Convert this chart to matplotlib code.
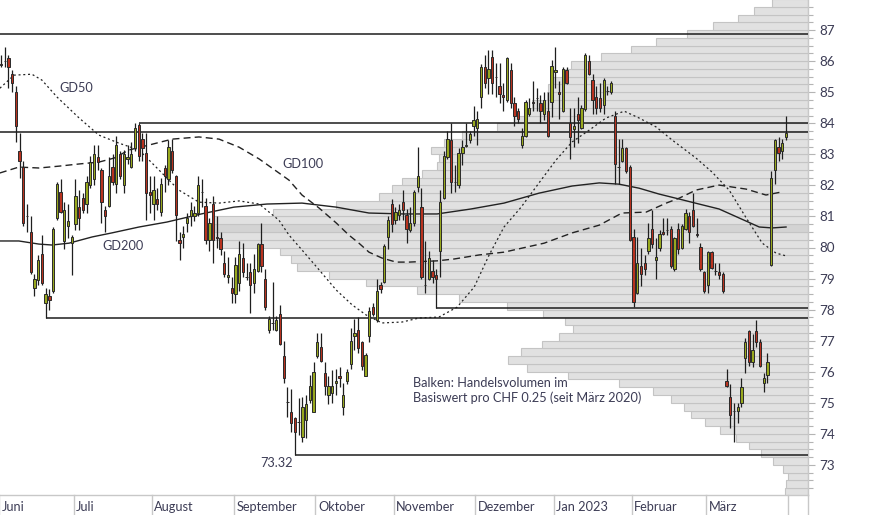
import numpy as np
import matplotlib.pyplot as plt
from matplotlib.ticker import MultipleLocator
from matplotlib.transforms import blended_transform_factory

plt.rcParams['font.family'] = ['Lato', 'DejaVu Sans']

# Tageskerzen (Eröffnung, Hoch, Tief, Schluss) pro Monat
juni = [
    (85.90, 86.20, 85.80, 85.88), (86.00, 86.45, 85.80, 86.02), (86.10, 86.20, 85.15, 85.80),
    (85.60, 85.70, 85.00, 85.30), (85.00, 85.20, 83.40, 83.90), (83.10, 83.70, 82.25, 82.80),
    (82.60, 82.80, 80.70, 80.80), (81.00, 81.40, 80.50, 81.00), (80.50, 81.00, 79.15, 79.20),
    (78.70, 79.15, 78.45, 79.00), (78.95, 79.75, 78.80, 79.60), (79.80, 80.40, 78.80, 78.85),
    (78.20, 78.70, 77.72, 78.50), (78.45, 78.65, 78.00, 78.30), (78.60, 80.65, 78.55, 80.60),
    (80.95, 82.10, 80.90, 82.05), (81.80, 82.20, 81.10, 81.15), (80.20, 81.45, 79.95, 81.20),
    (80.70, 81.40, 80.30, 80.85), (80.15, 80.40, 79.10, 80.35),
]
juli = [
    (80.75, 82.20, 80.55, 81.65), (81.30, 81.85, 80.55, 80.95), (81.60, 81.75, 81.10, 81.20),
    (81.40, 82.30, 81.10, 82.10), (82.00, 82.95, 81.90, 82.75), (82.20, 83.30, 82.00, 83.00),
    (82.90, 83.30, 82.50, 82.75), (82.50, 82.55, 80.80, 81.45), (81.20, 81.35, 80.50, 81.00),
    (81.35, 82.90, 81.30, 82.30), (82.60, 83.00, 82.00, 82.10), (82.05, 83.60, 81.75, 83.30),
    (83.00, 83.10, 82.20, 82.30), (82.00, 83.15, 81.75, 83.00), (82.85, 83.30, 82.70, 82.90),
    (82.60, 83.40, 82.55, 83.00), (83.20, 84.00, 83.10, 83.85), (83.95, 84.02, 82.80, 82.95),
    (83.50, 83.70, 82.80, 83.20), (83.05, 83.70, 80.90, 81.75), (81.80, 82.30, 81.10, 81.70),
]
august = [
    (81.40, 82.30, 80.90, 81.85), (81.55, 81.90, 81.20, 81.40), (81.15, 82.25, 81.00, 82.05),
    (82.55, 82.65, 81.80, 82.30), (82.20, 83.45, 82.00, 83.25), (83.10, 83.50, 82.40, 82.50),
    (82.30, 82.35, 80.20, 81.05), (80.25, 80.50, 79.60, 80.15), (80.35, 80.70, 80.00, 80.45),
    (80.80, 81.10, 80.50, 80.95), (81.00, 81.45, 80.70, 81.20), (81.00, 81.35, 80.85, 81.10),
    (81.10, 82.30, 81.00, 82.00), (81.80, 82.20, 81.30, 81.80), (81.35, 81.60, 80.10, 80.25),
    (80.25, 80.95, 79.90, 80.80), (81.40, 81.65, 79.50, 80.25), (80.35, 81.00, 80.00, 80.30),
    (80.30, 80.50, 79.75, 79.95), (79.50, 79.90, 79.05, 79.15), (79.05, 79.70, 78.85, 79.10),
    (78.70, 79.05, 78.20, 78.55),
]
september = [
    (78.50, 79.70, 78.20, 79.45), (78.85, 80.20, 78.60, 79.80), (79.65, 80.15, 79.05, 79.20),
    (79.05, 79.50, 78.95, 79.05), (79.20, 79.50, 77.90, 78.80), (78.85, 79.80, 78.55, 79.30),
    (79.25, 80.15, 79.20, 80.10), (80.10, 80.80, 79.20, 79.40), (79.00, 79.30, 78.00, 78.10),
    (77.35, 77.80, 77.25, 77.70), (77.58, 78.90, 77.35, 77.58), (77.35, 77.80, 77.30, 77.65),
    (77.85, 78.15, 76.85, 76.90), (76.50, 77.00, 75.65, 75.80), (75.04, 75.50, 74.55, 75.04),
    (74.70, 75.45, 74.05, 74.35), (74.50, 74.55, 73.32, 74.05), (74.38, 75.15, 73.95, 74.38),
    (73.90, 75.20, 73.75, 74.85), (74.45, 75.25, 73.85, 74.95), (75.10, 75.90, 75.00, 75.55),
    (74.70, 76.30, 74.70, 76.00),
]
oktober = [
    (76.50, 77.25, 76.45, 76.95), (76.80, 77.25, 76.30, 76.35), (75.95, 76.30, 75.25, 75.55),
    (75.25, 75.85, 74.95, 75.55), (75.30, 76.05, 75.00, 75.55), (75.64, 76.10, 75.25, 75.70),
    (75.86, 76.15, 75.50, 75.80), (74.85, 75.65, 74.60, 75.25), (75.70, 76.10, 75.60, 76.00),
    (76.25, 77.40, 76.10, 77.00), (77.15, 77.70, 76.70, 77.25), (77.35, 77.75, 76.60, 76.75),
    (76.95, 77.00, 76.05, 76.20), (75.85, 76.60, 75.85, 76.55), (77.15, 78.10, 76.95, 77.95),
    (78.10, 78.20, 77.80, 77.85), (77.65, 79.00, 77.60, 78.60), (78.80, 78.90, 78.55, 78.65),
    (78.90, 80.10, 78.85, 80.05), (80.35, 81.00, 79.95, 80.90), (81.40, 81.55, 80.50, 80.75),
]
november = [
    (80.90, 81.30, 80.75, 81.15), (81.05, 81.40, 80.90, 81.20), (81.45, 81.85, 80.90, 81.20),
    (81.05, 81.25, 80.15, 80.60), (80.55, 81.30, 80.50, 80.80), (80.80, 81.85, 80.70, 81.80),
    (81.95, 83.25, 81.80, 82.30), (81.30, 81.90, 79.00, 79.05), (78.80, 80.20, 78.55, 78.80),
    (79.00, 79.90, 78.95, 79.65), (79.25, 79.60, 78.85, 79.05), (79.10, 79.30, 78.04, 79.00),
    (79.90, 81.85, 79.05, 81.45), (81.60, 83.10, 81.55, 82.95), (82.90, 83.75, 82.85, 83.50),
    (83.45, 84.00, 81.75, 82.10), (82.10, 82.65, 81.80, 82.10), (82.00, 83.20, 81.90, 83.05),
    (83.05, 83.45, 82.65, 83.25), (83.28, 84.00, 83.25, 83.30), (83.45, 83.75, 83.35, 83.65),
    (83.90, 84.55, 83.60, 84.10),
]
dezember = [
    (83.85, 84.40, 83.30, 84.15), (84.85, 85.90, 84.50, 85.80), (85.80, 86.20, 85.15, 85.30),
    (85.45, 86.35, 84.95, 85.75), (86.15, 86.35, 84.95, 85.30), (85.48, 85.95, 84.85, 85.48),
    (85.20, 85.95, 84.65, 84.95), (84.90, 85.30, 84.40, 84.85), (84.75, 86.15, 84.70, 86.10),
    (85.70, 85.95, 84.50, 84.65), (84.65, 84.85, 83.90, 84.25), (84.40, 84.50, 84.00, 84.15),
    (83.30, 83.85, 83.20, 83.60), (83.60, 84.75, 83.55, 84.70), (84.30, 84.80, 84.25, 84.50),
    (84.70, 85.35, 84.40, 84.65), (84.83, 85.15, 84.40, 84.83), (84.65, 84.90, 84.00, 84.40),
    (84.30, 85.00, 84.10, 84.75), (84.40, 85.00, 83.55, 83.60), (84.70, 86.05, 84.20, 85.85),
]
januar = [
    (85.65, 86.45, 85.15, 85.70), (85.00, 85.35, 84.15, 84.95), (84.40, 85.80, 84.35, 85.75),
    (85.70, 85.80, 85.25, 85.30), (84.00, 84.50, 82.85, 83.55), (83.80, 84.50, 83.25, 83.90),
    (84.30, 84.85, 83.35, 84.10), (83.85, 84.60, 83.80, 84.50), (84.45, 86.25, 84.40, 86.20),
    (86.00, 86.20, 85.55, 85.60), (85.40, 85.60, 84.30, 84.75), (84.85, 85.20, 84.30, 84.50),
    (84.80, 85.30, 84.35, 84.50), (84.60, 85.45, 84.30, 85.40), (85.04, 85.20, 84.90, 85.04),
    (85.00, 85.35, 84.95, 85.30), (84.25, 84.40, 82.05, 82.70), (82.60, 83.50, 82.05, 82.60),
    (82.80, 83.50, 82.75, 83.20), (83.20, 83.25, 82.40, 82.45), (82.60, 82.65, 80.20, 80.25),
]
februar = [
    (80.35, 80.60, 78.10, 78.25), (78.55, 80.35, 78.50, 79.50), (79.40, 80.00, 78.75, 79.15),
    (79.50, 79.75, 79.10, 79.30), (79.90, 80.80, 79.80, 80.30), (80.60, 81.20, 80.00, 80.10),
    (79.60, 80.30, 79.00, 79.70), (80.00, 80.55, 79.90, 80.45), (80.50, 80.95, 80.40, 80.45),
    (80.55, 80.95, 80.40, 80.55), (80.60, 80.70, 79.35, 79.40), (79.30, 80.35, 79.25, 80.30),
    (80.60, 80.80, 79.80, 79.95), (80.00, 80.75, 79.95, 80.70), (80.60, 81.25, 80.55, 81.10),
    (81.00, 81.15, 80.15, 80.50), (81.20, 81.75, 80.65, 80.70), (80.45, 80.95, 80.35, 80.40),
    (80.00, 80.15, 79.25, 79.30), (79.20, 79.25, 78.55, 78.60),
]
maerz = [
    (78.80, 79.90, 78.55, 79.85), (79.85, 79.90, 79.30, 79.35), (79.25, 79.50, 79.10, 79.25),
    (79.20, 79.50, 79.00, 79.10), (79.15, 79.20, 78.55, 78.60), (75.70, 76.10, 75.50, 75.55),
    (75.20, 75.60, 74.20, 74.60), (74.72, 75.00, 73.75, 74.72), (74.75, 75.00, 74.35, 74.85),
    (75.00, 75.80, 74.85, 75.50), (76.45, 77.10, 75.95, 76.95), (77.30, 77.35, 76.20, 76.30),
    (76.30, 77.20, 76.15, 76.70), (77.30, 77.65, 76.80, 76.95), (76.95, 77.05, 76.15, 76.20),
    (75.65, 75.95, 75.35, 75.80), (75.90, 76.60, 75.65, 76.30), (79.45, 82.45, 79.40, 82.25),
    (82.50, 83.50, 82.05, 83.45), (83.25, 83.55, 82.80, 83.05), (83.10, 83.50, 82.85, 83.35),
    (83.55, 84.25, 83.45, 83.70),
]
monate = ['Juni', 'Juli', 'August', 'September', 'Oktober', 'November',
          'Dezember', 'Jan 2023', 'Februar', 'März']
kerzen_pro_monat = [juni, juli, august, september, oktober, november,
                    dezember, januar, februar, maerz]

gd50_x = [-0.3, 3.5, 8.3, 11.0, 15.1, 21.0, 26.3, 31.7, 37.1, 42.5, 47.8, 53.2, 58.6, 64.0,
          69.4, 74.7, 77.4, 80.9, 85.5, 90.1, 94.4, 98.1, 102.4, 107.8, 112.4, 117.7, 122.6,
          127.2, 131.2, 135.2, 139.8, 144.6, 149.2, 153.5, 158.1, 162.6, 167.5, 171.5, 176.1,
          180.4, 186.8, 191.1, 195.7, 200.3, 204.6, 208.3, 211.0]
gd50_y = [85.13, 85.55, 85.58, 85.39, 84.84, 84.17, 83.62, 83.36, 83.14, 82.49, 81.85, 81.46,
          81.43, 81.50, 81.40, 80.88, 80.40, 79.92, 79.28, 78.63, 78.15, 77.83, 77.57, 77.60,
          77.73, 77.76, 78.08, 78.73, 79.76, 80.66, 81.30, 82.08, 82.82, 83.40, 83.78, 84.17,
          84.39, 84.17, 83.88, 83.46, 82.88, 82.43, 81.85, 80.95, 80.14, 79.82, 79.73]
gd100_x = [-0.3, 4.8, 10.2, 15.6, 21.0, 26.3, 30.4, 34.4, 39.8, 46.0, 53.2, 58.6, 64.0, 69.4,
           74.7, 77.4, 80.9, 85.5, 90.1, 93.5, 96.2, 98.9, 102.4, 106.2, 109.7, 117.2, 121.8,
           128.5, 135.2, 146.0, 153.5, 160.8, 166.9, 173.4, 178.8, 182.3, 186.8, 193.0, 200.3,
           205.6, 209.9]
gd100_y = [82.40, 82.59, 82.56, 82.62, 82.69, 82.75, 82.88, 83.14, 83.30, 83.49, 83.56, 83.49,
           83.23, 82.85, 82.40, 82.17, 81.69, 81.27, 80.79, 80.40, 80.14, 79.85, 79.66, 79.53,
           79.53, 79.57, 79.63, 79.76, 79.85, 80.14, 80.47, 80.72, 81.11, 81.14, 81.43, 81.59,
           81.85, 82.01, 81.88, 81.69, 81.79]
gd200_x = [-0.3, 4.8, 10.2, 13.7, 18.3, 24.5, 29.8, 37.1, 44.6, 53.8, 62.6, 71.5, 80.9, 90.1,
           98.9, 108.3, 117.2, 126.3, 135.2, 144.6, 153.5, 160.8, 166.1, 171.5, 176.9, 182.3,
           187.6, 193.0, 198.4, 203.8, 207.3, 211.0]
gd200_y = [80.21, 80.21, 80.11, 80.08, 80.14, 80.34, 80.47, 80.66, 80.82, 81.08, 81.30, 81.40,
           81.43, 81.30, 81.11, 81.08, 81.08, 81.24, 81.43, 81.75, 81.98, 82.08, 82.04, 81.91,
           81.72, 81.56, 81.40, 81.24, 80.95, 80.66, 80.63, 80.66]

# Volumenprofil: Handelsvolumen pro CHF 0.25 (Untergrenze der Stufe)
vol_stufen = np.arange(72.0, 88.0, 0.25)
volumen = [23, 22, 20, 25, 35, 47, 59, 72, 88, 103, 117, 124, 137, 155, 189, 240,
           281, 300, 287, 266, 249, 235, 243, 265, 301, 349, 391, 442, 479, 511, 517, 528,
           588, 595, 603, 596, 535, 472, 429, 416, 406, 386, 371, 369, 377, 364, 346, 311,
           294, 284, 276, 261, 260, 256, 243, 237, 207, 177, 152, 121, 95, 70, 54, 36]
vol_skala = 808

# Marken: (Kurs, ab Handelstag)
linien = [(86.89, None), (83.72, None), (84.02, 37), (78.04, 117), (77.72, 12), (73.32, 79)]

kerzen = np.array([k for m in kerzen_pro_monat for k in m])
o, h, l, c = kerzen.T
x = np.arange(len(kerzen))
monat_start = np.cumsum([0] + [len(m) for m in kerzen_pro_monat])

ymin, ymax = 72.03, 87.97
xmin, xmax = -0.27, 216.9
textfarbe = '#3c3c55'
fs = 9.2

fig = plt.figure(figsize=(8.74, 5.15), dpi=100)
rect = [0, 20 / 515, 808 / 874, 495 / 515]
ax_vol = fig.add_axes(rect)
ax = fig.add_axes(rect)
ax_vol.set_zorder(1)
ax.set_zorder(2)
ax.patch.set_visible(False)

farben_vol = ['#d3d3d3' if v == max(volumen) else '#e1e1e1' for v in volumen]
ax_vol.barh(vol_stufen, volumen, height=0.25, align='edge', color=farben_vol,
            edgecolor='#c4c4c4', linewidth=0.8)
ax_vol.set_xlim(vol_skala, 0)
ax_vol.set_ylim(ymin, ymax)
ax_vol.axis('off')

# gleitende Durchschnitte
ax.plot(gd50_x, gd50_y, color='#222222', lw=0.9, ls=(0, (1.6, 2.2)), zorder=2)
ax.plot(gd100_x, gd100_y, color='#222222', lw=1.0, ls=(0, (5, 3)), zorder=2)
ax.plot(gd200_x, gd200_y, color='#222222', lw=1.0, zorder=2)

for kurs, ab in linien:
    start = xmin if ab is None else ab
    ax.hlines(kurs, start, xmax, color='#1c1c1c', lw=1.1, zorder=3)

# Kerzen
ax.vlines(x, l, h, color='#1e1e1e', lw=0.9, zorder=4)
steigend = c >= o
ax.bar(x, np.abs(c - o), bottom=np.minimum(o, c), width=0.62,
       color=np.where(steigend, '#98a81e', '#b8321f'), edgecolor='#2a2a2a',
       linewidth=0.7, zorder=5)

ax.text(15.6, 85.13, 'GD50', fontsize=fs, color=textfarbe, va='center', ha='left')
ax.text(75.5, 82.69, 'GD100', fontsize=fs, color=textfarbe, va='center', ha='left')
ax.text(27.2, 80.05, 'GD200', fontsize=fs, color=textfarbe, va='center', ha='left')
ax.text(78.5, 73.06, '73.32', fontsize=fs, color=textfarbe, va='center', ha='right')
ax.text(110.8, 75.40, 'Balken: Handelsvolumen im\nBasiswert pro CHF 0.25 (seit März 2020)',
        fontsize=fs, color=textfarbe, va='center', ha='left', linespacing=1.2)

ax.set_xlim(xmin, xmax)
ax.set_ylim(ymin, ymax)
ax.set_xticks([])
ax.yaxis.tick_right()
ax.yaxis.set_major_locator(MultipleLocator(1))
ax.yaxis.set_minor_locator(MultipleLocator(0.25))
ax.tick_params(axis='y', which='major', length=5, width=0.8, color='#b4b4b4', pad=3,
               labelsize=fs + 0.5, labelcolor=textfarbe)
ax.tick_params(axis='y', which='minor', length=3.5, width=0.8, color='#b4b4b4')
for s in ['top', 'left']:
    ax.spines[s].set_visible(False)
for s in ['bottom', 'right']:
    ax.spines[s].set_color('#c8c8c8')
    ax.spines[s].set_linewidth(1.0)

# Monatsachse
trans = blended_transform_factory(ax.transData, ax.transAxes)
unten = -20 / 495
grenzen = list(monat_start - 0.5)
for g in grenzen:
    ax.plot([g, g], [0, unten], transform=trans, color='#c8c8c8', lw=1.0, clip_on=False)
ax.plot([1, 1], [0, unten], transform=ax.transAxes, color='#c8c8c8', lw=1.0, clip_on=False)
for name, s in zip(monate, monat_start[:-1]):
    ax.text(max(s - 0.5 + 0.7, 0.3), -12 / 495, name, transform=trans, fontsize=fs,
            color=textfarbe, va='center', ha='left')

fig.savefig('out.png', dpi=100)
